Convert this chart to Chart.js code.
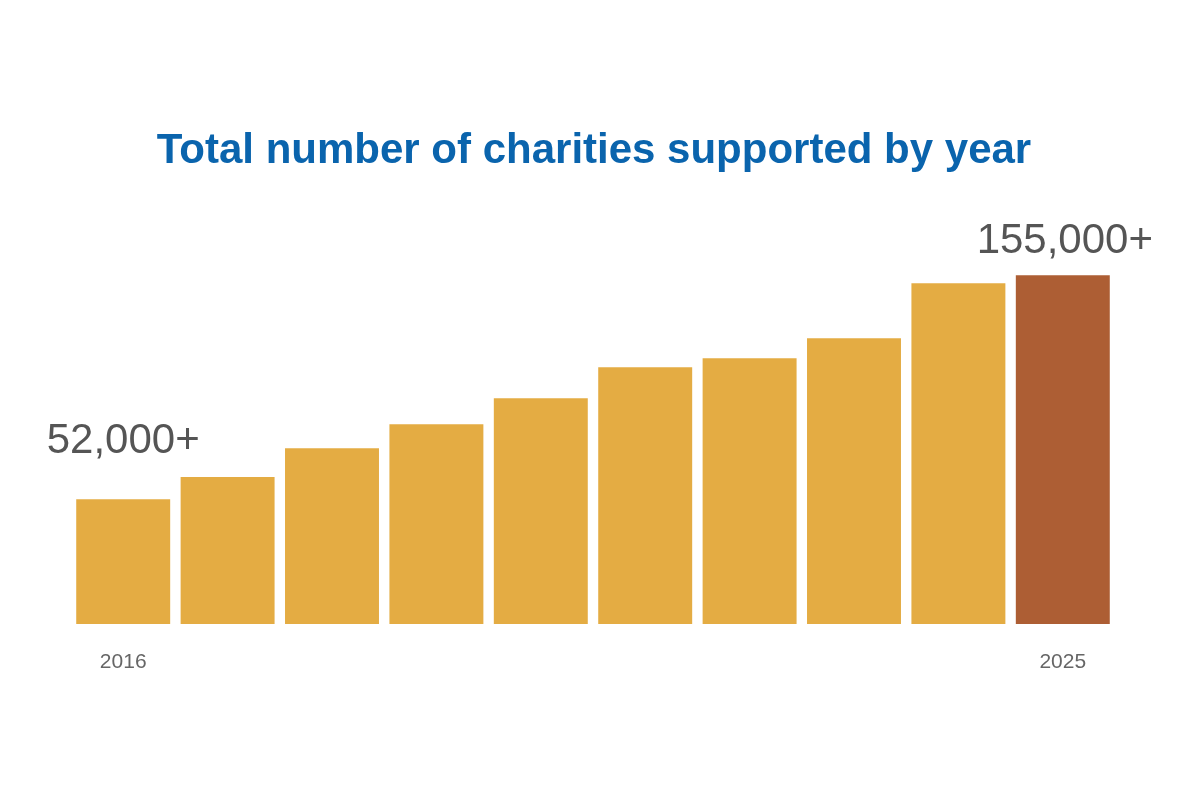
<!DOCTYPE html>
<html><head><meta charset="utf-8">
<script src="https://cdn.jsdelivr.net/npm/chart.js@4"></script>
<style>html,body{margin:0;padding:0;background:#fff}#w{width:1200px;height:800px}</style>
</head><body><div id="w"><canvas id="c"></canvas></div>
<script>
const titleText = 'Total number of charities supported by year';
const years = ['2016','2017','2018','2019','2020','2021','2022','2023','2024','2025'];
const charities = [55500, 65300, 78100, 88800, 100300, 114100, 118100, 127000, 151400, 155000];
const barColors = ['#e4ac43','#e4ac43','#e4ac43','#e4ac43','#e4ac43','#e4ac43','#e4ac43','#e4ac43','#e4ac43','#ad5e34'];
const shownTicks = ['2016','2025'];
const callouts = ['52,000+', '155,000+'];

const overlay = {
  id: 'overlay',
  afterDraw(chart) {
    const ctx = chart.ctx;
    ctx.save();
    ctx.fillStyle = '#0a64ad';
    ctx.font = 'bold 42px "Liberation Sans", Arial, sans-serif';
    ctx.textAlign = 'center';
    ctx.textBaseline = 'alphabetic';
    ctx.fillText(titleText, 594, 163);
    const meta = chart.getDatasetMeta(0);
    ctx.fillStyle = '#555555';
    ctx.font = '42px "Liberation Sans", Arial, sans-serif';
    const first = meta.data[0], last = meta.data[meta.data.length - 1];
    ctx.textAlign = 'center';
    ctx.fillText(callouts[0], first.x, first.y - 46);
    ctx.fillText(callouts[1], last.x + 2, last.y - 22);
    ctx.restore();
  }
};

new Chart(document.getElementById('c'), {
  type: 'bar',
  data: { labels: years, datasets: [{ data: charities, backgroundColor: barColors,
    barPercentage: 0.9, categoryPercentage: 1.0 }] },
  options: {
    responsive: true, maintainAspectRatio: false, animation: false,
    layout: { padding: { left: 71, right: 85, top: 264, bottom: 0 } },
    plugins: { legend: { display: false }, tooltip: { enabled: false } },
    scales: {
      x: {
        grid: { display: false, drawTicks: false }, border: { display: false },
        ticks: { autoSkip: false, maxRotation: 0, padding: 26, color: '#666666',
          font: { family: '"Liberation Sans", Arial, sans-serif', size: 21 },
          callback(v, i) { const l = years[i]; return shownTicks.includes(l) ? l : ''; } },
        afterFit(s) { s.height = 176; }
      },
      y: { display: false, min: 0, max: 160000 }
    }
  },
  plugins: [overlay]
});
</script></body></html>
